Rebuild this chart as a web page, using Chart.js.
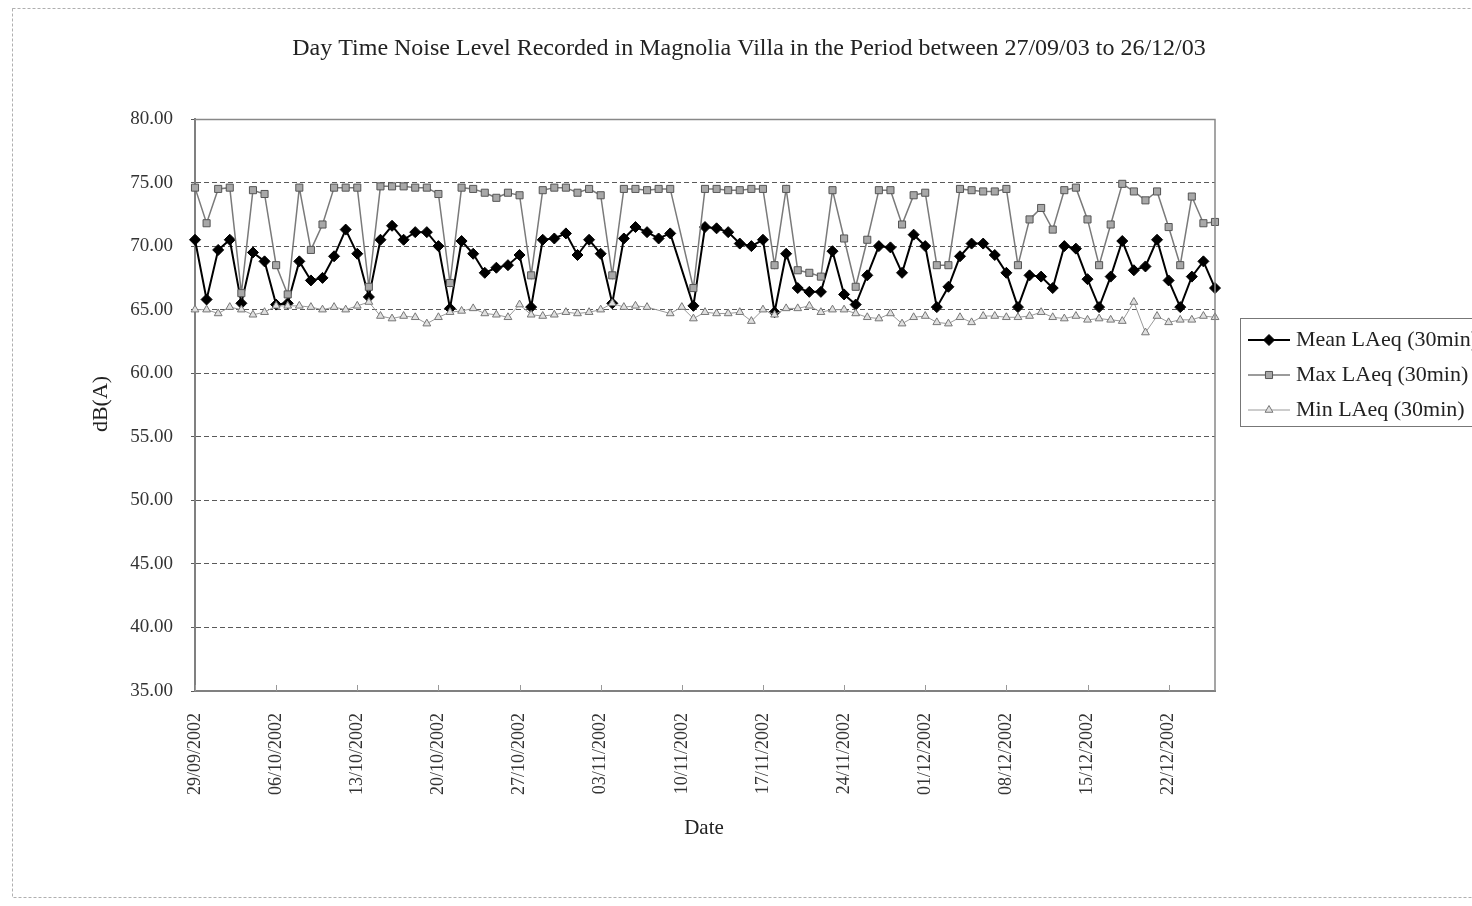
<!DOCTYPE html>
<html>
<head>
<meta charset="utf-8">
<script src="https://cdn.jsdelivr.net/npm/chart.js@4.4.1/dist/chart.umd.min.js"></script>
<style>
html,body{margin:0;padding:0;background:#fff;overflow:hidden;}
#wrap{position:absolute;left:0;top:0;width:1472px;height:906px;}
</style>
</head>
<body>
<div id="wrap"><canvas id="c" width="1472" height="906"></canvas></div>
<script>
const chartTitle = "Day Time Noise Level Recorded in Magnolia Villa in the Period between 27/09/03 to 26/12/03";
const xAxisTitle = "Date";
const yAxisTitle = "dB(A)";

const dates = [
"29/09/2002","30/09/2002",
"01/10/2002","02/10/2002","03/10/2002","04/10/2002","05/10/2002","06/10/2002","07/10/2002","08/10/2002","09/10/2002","10/10/2002",
"11/10/2002","12/10/2002","13/10/2002","14/10/2002","15/10/2002","16/10/2002","17/10/2002","18/10/2002","19/10/2002","20/10/2002",
"21/10/2002","22/10/2002","23/10/2002","24/10/2002","25/10/2002","26/10/2002","27/10/2002","28/10/2002","29/10/2002","30/10/2002","31/10/2002",
"01/11/2002","02/11/2002","03/11/2002","04/11/2002","05/11/2002","06/11/2002","07/11/2002","08/11/2002","09/11/2002","10/11/2002",
"11/11/2002","12/11/2002","13/11/2002","14/11/2002","15/11/2002","16/11/2002","17/11/2002","18/11/2002","19/11/2002","20/11/2002",
"21/11/2002","22/11/2002","23/11/2002","24/11/2002","25/11/2002","26/11/2002","27/11/2002","28/11/2002","29/11/2002","30/11/2002",
"01/12/2002","02/12/2002","03/12/2002","04/12/2002","05/12/2002","06/12/2002","07/12/2002","08/12/2002","09/12/2002","10/12/2002",
"11/12/2002","12/12/2002","13/12/2002","14/12/2002","15/12/2002","16/12/2002","17/12/2002","18/12/2002","19/12/2002","20/12/2002",
"21/12/2002","22/12/2002","23/12/2002","24/12/2002","25/12/2002","26/12/2002"
];

const shownDateLabels = ["29/09/2002","06/10/2002","13/10/2002","20/10/2002","27/10/2002","03/11/2002","10/11/2002",
"17/11/2002","24/11/2002","01/12/2002","08/12/2002","15/12/2002","22/12/2002"];

const seriesNames = ["Mean LAeq (30min)","Max LAeq (30min)","Min LAeq (30min)"];

const meanLAeq = [
70.5,65.8,69.7,70.5,65.5,69.5,68.8,65.4,65.5,68.8,
67.3,67.5,69.2,71.3,69.4,66.0,70.5,71.6,70.5,71.1,
71.1,70.0,65.1,70.4,69.4,67.9,68.3,68.5,69.3,65.2,
70.5,70.6,71.0,69.3,70.5,69.4,65.5,70.6,71.5,71.1,
70.6,71.0,null,65.3,71.5,71.4,71.1,70.2,70.0,70.5,
64.8,69.4,66.7,66.4,66.4,69.6,66.2,65.4,67.7,70.0,
69.9,67.9,70.9,70.0,65.2,66.8,69.2,70.2,70.2,69.3,
67.9,65.2,67.7,67.6,66.7,70.0,69.8,67.4,65.2,67.6,
70.4,68.1,68.4,70.5,67.3,65.2,67.6,68.8,66.7
];

const maxLAeq = [
74.6,71.8,74.5,74.6,66.3,74.4,74.1,68.5,66.2,74.6,
69.7,71.7,74.6,74.6,74.6,66.8,74.7,74.7,74.7,74.6,
74.6,74.1,67.1,74.6,74.5,74.2,73.8,74.2,74.0,67.7,
74.4,74.6,74.6,74.2,74.5,74.0,67.7,74.5,74.5,74.4,
74.5,74.5,null,66.7,74.5,74.5,74.4,74.4,74.5,74.5,
68.5,74.5,68.1,67.9,67.6,74.4,70.6,66.8,70.5,74.4,
74.4,71.7,74.0,74.2,68.5,68.5,74.5,74.4,74.3,74.3,
74.5,68.5,72.1,73.0,71.3,74.4,74.6,72.1,68.5,71.7,
74.9,74.3,73.6,74.3,71.5,68.5,73.9,71.8,71.9
];

const minLAeq = [
65.0,65.0,64.7,65.2,65.0,64.6,64.8,65.3,65.3,65.3,
65.2,65.0,65.2,65.0,65.3,65.6,64.5,64.3,64.5,64.4,
63.9,64.4,64.8,64.9,65.1,64.7,64.6,64.4,65.4,64.6,
64.5,64.6,64.8,64.7,64.8,65.0,65.5,65.2,65.3,65.2,
null,64.7,65.2,64.3,64.8,64.7,64.7,64.8,64.1,65.0,
64.6,65.1,65.1,65.3,64.8,65.0,65.0,64.7,64.4,64.3,
64.7,63.9,64.4,64.5,64.0,63.9,64.4,64.0,64.5,64.5,
64.4,64.4,64.5,64.8,64.4,64.3,64.5,64.2,64.3,64.2,
64.1,65.6,63.2,64.5,64.0,64.2,64.2,64.5,64.4
];

const yMin = 35, yMax = 80, yStep = 5;

const SERIF = "'Liberation Serif', 'DejaVu Serif', serif";

function drawMarker(ctx, style, r, x, y, fill, stroke) {
  ctx.save();
  ctx.fillStyle = fill;
  ctx.strokeStyle = stroke;
  ctx.lineWidth = 1;
  Chart.helpers.drawPoint(ctx, {pointStyle: style, radius: r, borderWidth: 1}, x, y);
  ctx.restore();
}

const decor = {
  id: 'decor',
  beforeDraw(chart) {
    const ctx = chart.ctx;
    ctx.save();
    ctx.fillStyle = '#fff';
    ctx.fillRect(0, 0, chart.width, chart.height);
    ctx.setLineDash([3, 2]);
    ctx.strokeStyle = '#b0b0b0';
    ctx.lineWidth = 1;
    ctx.strokeRect(12.5, 8.5, 1520, 889);
    ctx.restore();
  },
  afterDraw(chart) {
    const ctx = chart.ctx;
    const a = chart.chartArea;
    const xs = chart.scales.x;
    ctx.save();
    // plot top/right border
    ctx.strokeStyle = '#888';
    ctx.lineWidth = 1.5;
    ctx.beginPath();
    ctx.moveTo(a.left, a.top + 0.5);
    ctx.lineTo(a.right, a.top + 0.5);
    ctx.lineTo(a.right, a.bottom);
    ctx.stroke();
    // inward x tick marks
    ctx.strokeStyle = '#999';
    ctx.lineWidth = 1;
    dates.forEach((d, i) => {
      if (shownDateLabels.includes(d)) {
        const px = Math.round(xs.getPixelForValue(i)) + 0.5;
        ctx.beginPath();
        ctx.moveTo(px, a.bottom);
        ctx.lineTo(px, a.bottom - 6);
        ctx.stroke();
      }
    });
    // title
    ctx.fillStyle = '#222';
    ctx.font = "24px " + SERIF;
    ctx.textAlign = 'center';
    ctx.textBaseline = 'middle';
    ctx.fillText(chartTitle, 749, 49);
    // axis titles
    ctx.font = "21px " + SERIF;
    ctx.fillText(xAxisTitle, 704, 828);
    ctx.save();
    ctx.translate(101, 404);
    ctx.rotate(-Math.PI / 2);
    ctx.font = "22px " + SERIF;
    ctx.fillText(yAxisTitle, 0, 0);
    ctx.restore();
    // legend
    const lx = 1240.5, ly = 318.5;
    ctx.strokeStyle = '#777';
    ctx.lineWidth = 1;
    ctx.setLineDash([]);
    ctx.strokeRect(lx, ly, 260, 108);
    const rows = [340, 375, 410];
    chart.data.datasets.forEach((ds, k) => {
      const y = rows[k];
      ctx.strokeStyle = ds.borderColor;
      ctx.lineWidth = ds.borderWidth;
      ctx.beginPath();
      ctx.moveTo(1248, y);
      ctx.lineTo(1290, y);
      ctx.stroke();
      drawMarker(ctx, ds.pointStyle, ds.pointRadius, 1269, y, ds.pointBackgroundColor, ds.pointBorderColor);
      ctx.fillStyle = '#222';
      ctx.font = "22px " + SERIF;
      ctx.textAlign = 'left';
      ctx.textBaseline = 'middle';
      ctx.fillText(ds.label, 1296, y);
    });
    ctx.restore();
  }
};

const chart = new Chart(document.getElementById('c'), {
  type: 'line',
  data: {
    labels: dates,
    datasets: [
      {
        label: seriesNames[0],
        data: meanLAeq,
        borderColor: '#000',
        borderWidth: 2,
        pointStyle: 'rectRot',
        pointRadius: 5.5,
        pointBackgroundColor: '#000',
        pointBorderColor: '#000',
        pointBorderWidth: 1,
        spanGaps: true,
        tension: 0,
        order: 3
      },
      {
        label: seriesNames[1],
        data: maxLAeq,
        borderColor: '#7a7a7a',
        borderWidth: 1.5,
        pointStyle: 'rect',
        pointRadius: 5,
        pointBackgroundColor: '#a8a8a8',
        pointBorderColor: '#555',
        pointBorderWidth: 1,
        spanGaps: true,
        tension: 0,
        order: 2
      },
      {
        label: seriesNames[2],
        data: minLAeq,
        borderColor: '#9a9a9a',
        borderWidth: 1,
        pointStyle: 'triangle',
        pointRadius: 4.5,
        pointBackgroundColor: '#e0e0e0',
        pointBorderColor: '#777',
        pointBorderWidth: 1,
        spanGaps: true,
        tension: 0,
        order: 1
      }
    ]
  },
  options: {
    responsive: false,
    devicePixelRatio: 1,
    animation: false,
    events: [],
    layout: { padding: { top: 119, right: 257, left: 0, bottom: 0 } },
    plugins: { legend: { display: false }, title: { display: false }, tooltip: { enabled: false } },
    scales: {
      x: {
        type: 'category',
        offset: false,
        grid: { display: false },
        border: { display: true, color: '#808080', width: 2 },
        ticks: {
          autoSkip: false,
          maxRotation: 90,
          minRotation: 90,
          padding: 14,
          color: '#333',
          font: { family: SERIF, size: 18 },
          callback: function(v, i) { return shownDateLabels.includes(dates[i]) ? dates[i] : ''; }
        },
        afterFit(s) { s.height = 215; }
      },
      y: {
        min: yMin, max: yMax,
        grid: { color: '#5a5a5a', lineWidth: 1, tickLength: 4, drawTicks: true },
        border: { display: true, color: '#808080', width: 2, dash: [5, 3] },
        ticks: {
          stepSize: yStep,
          padding: 18,
          color: '#333',
          font: { family: SERIF, size: 19 },
          callback: v => Number(v).toFixed(2)
        },
        afterFit(s) { s.width = 195; }
      }
    }
  },
  plugins: [decor]
});
</script>
</body>
</html>
